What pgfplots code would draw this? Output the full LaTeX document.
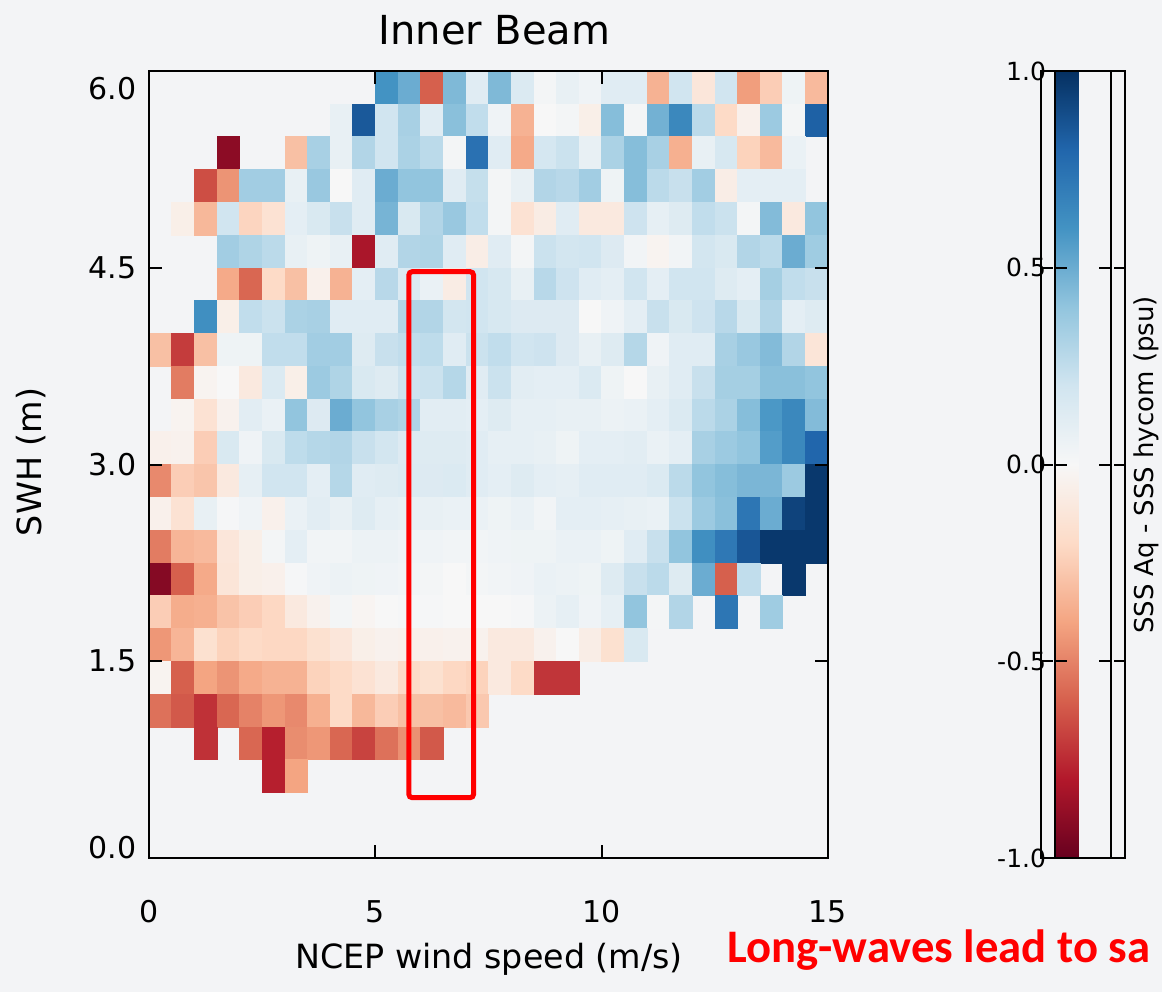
\documentclass[border=0pt]{standalone}
\usepackage{pgfplots}
\pgfplotsset{compat=1.18}
\usepackage{fontspec}
\setmainfont{DejaVu Sans}
\newfontfamily\carlito{Carlito}
\definecolor{bg}{RGB}{243,244,246}
\pgfdeclareplotmark{cell}{\pgfpathrectangle{\pgfpoint{-6.79pt}{-9.8375pt}}{\pgfpoint{13.58pt}{19.675pt}}\pgfusepathqfillstroke}
\pgfplotsset{myframe/.style={
  tick align=inside,
  tick style={line width=1.2pt, black},
  axis line style={line width=1.2pt, black}}}
\begin{document}
\begin{tikzpicture}
\fill[bg] (-89.4pt,-80.4pt) rectangle (607.8pt,514.8pt);
\path[use as bounding box] (-89.4pt,-80.4pt) rectangle (607.8pt,514.8pt);
\begin{axis}[
  myframe,
  at={(0,0)}, anchor=south west,
  scale only axis, width=407.4pt, height=472.2pt,
  xmin=0, xmax=15, ymin=0, ymax=6,
  xtick={0,5,10,15}, ytick={0,1.5,3,4.5,6},
  yticklabels={\raisebox{6pt}[\height][\depth]{0.0},1.5,3.0,4.5,\raisebox{-10.8pt}[\height][\depth]{6.0}},
  xticklabel pos=lower, yticklabel pos=lower,
  xtick pos=both, ytick pos=both,
  major tick length=7.8pt,
  axis on top,
  xticklabel style={font=\fontsize{18}{21}\selectfont, inner sep=0pt, yshift=-25.2pt, /pgf/number format/assume math mode=true},
  yticklabel style={font=\fontsize{18}{21}\selectfont, xshift=-4pt},
  colormap={rdbu}{rgb255=(103,0,31) rgb255=(178,24,43) rgb255=(214,96,77) rgb255=(244,165,130) rgb255=(253,219,199) rgb255=(247,247,247) rgb255=(209,229,240) rgb255=(146,197,222) rgb255=(67,147,195) rgb255=(33,102,172) rgb255=(5,48,97)},
  point meta min=-1, point meta max=1,
  colorbar,
  colorbar style={
    at={(parent axis.north east)}, anchor=north west, xshift=127.8pt,
    scale only axis, width=42pt, height=472.2pt,
    ytick={-1,-0.5,0,0.5,1},
    yticklabel pos=left, ytick pos=both,
    axis on top,
    major tick length=7pt,
    tick style={line width=1.2pt, black},
    axis line style={line width=1.2pt, black},
    yticklabel style={font=\fontsize{15}{18}\selectfont, xshift=-2pt, /pgf/number format/.cd, fixed, fixed zerofill, precision=1, assume math mode=true},
  },
]
\addplot[scatter, only marks, mark=cell, point meta=explicit,
  mark options={line width=0.3pt},
  scatter/use mapped color={draw=mapped color, fill=mapped color}] coordinates {
(5.25,5.875) [0.6] (5.75,5.875) [0.5] (6.25,5.875) [-0.6] (6.75,5.875) [0.45] (7.25,5.875) [0.12] (7.75,5.875) [0.45] (8.25,5.875) [0.15] (8.75,5.875) [0.02] (9.25,5.875) [0.08] (9.75,5.875) [0.04] (10.25,5.875) [0.12] (10.75,5.875) [0.12] (11.25,5.875) [-0.35] (11.75,5.875) [0.2] (12.25,5.875) [-0.12] (12.75,5.875) [0.2] (13.25,5.875) [-0.42] (13.75,5.875) [-0.25] (14.25,5.875) [0.05] (14.75,5.875) [-0.32]
(4.25,5.625) [0.08] (4.75,5.625) [0.85] (5.25,5.625) [0.2] (5.75,5.625) [0.33] (6.25,5.625) [0.12] (6.75,5.625) [0.42] (7.25,5.625) [0.25] (7.75,5.625) [0.04] (8.25,5.625) [-0.35] (8.75,5.625) [0.0] (9.25,5.625) [0.02] (9.75,5.625) [-0.06] (10.25,5.625) [0.43] (10.75,5.625) [0.02] (11.25,5.625) [0.48] (11.75,5.625) [0.65] (12.25,5.625) [0.27] (12.75,5.625) [-0.2] (13.25,5.625) [-0.05] (13.75,5.625) [0.37] (14.25,5.625) [0.02] (14.75,5.625) [0.82]
(1.75,5.375) [-0.9] (3.25,5.375) [-0.3] (3.75,5.375) [0.33] (4.25,5.375) [0.08] (4.75,5.375) [0.3] (5.25,5.375) [0.2] (5.75,5.375) [0.32] (6.25,5.375) [0.27] (6.75,5.375) [0.02] (7.25,5.375) [0.75] (7.75,5.375) [0.12] (8.25,5.375) [-0.38] (8.75,5.375) [0.18] (9.25,5.375) [0.22] (9.75,5.375) [0.08] (10.25,5.375) [0.32] (10.75,5.375) [0.43] (11.25,5.375) [0.33] (11.75,5.375) [-0.36] (12.25,5.375) [0.08] (12.75,5.375) [0.17] (13.25,5.375) [-0.23] (13.75,5.375) [-0.32] (14.25,5.375) [0.07]
(1.25,5.125) [-0.65] (1.75,5.125) [-0.45] (2.25,5.125) [0.35] (2.75,5.125) [0.35] (3.25,5.125) [0.08] (3.75,5.125) [0.38] (4.25,5.125) [0.0] (4.75,5.125) [0.12] (5.25,5.125) [0.5] (5.75,5.125) [0.4] (6.25,5.125) [0.4] (6.75,5.125) [0.12] (7.25,5.125) [0.24] (7.75,5.125) [0.02] (8.25,5.125) [0.08] (8.75,5.125) [0.3] (9.25,5.125) [0.28] (9.75,5.125) [0.35] (10.25,5.125) [0.05] (10.75,5.125) [0.43] (11.25,5.125) [0.27] (11.75,5.125) [0.23] (12.25,5.125) [0.35] (12.75,5.125) [-0.07] (13.25,5.125) [0.1] (13.75,5.125) [0.1] (14.25,5.125) [0.1]
(0.75,4.875) [-0.06] (1.25,4.875) [-0.33] (1.75,4.875) [0.2] (2.25,4.875) [-0.22] (2.75,4.875) [-0.15] (3.25,4.875) [0.1] (3.75,4.875) [0.16] (4.25,4.875) [0.23] (4.75,4.875) [0.12] (5.25,4.875) [0.47] (5.75,4.875) [0.16] (6.25,4.875) [0.3] (6.75,4.875) [0.38] (7.25,4.875) [0.25] (7.75,4.875) [0.02] (8.25,4.875) [-0.15] (8.75,4.875) [-0.08] (9.25,4.875) [0.12] (9.75,4.875) [-0.1] (10.25,4.875) [-0.1] (10.75,4.875) [0.21] (11.25,4.875) [0.09] (11.75,4.875) [0.13] (12.25,4.875) [0.25] (12.75,4.875) [0.22] (13.25,4.875) [0.02] (13.75,4.875) [0.44] (14.25,4.875) [-0.1] (14.75,4.875) [0.4]
(1.75,4.625) [0.35] (2.25,4.625) [0.31] (2.75,4.625) [0.27] (3.25,4.625) [0.08] (3.75,4.625) [0.05] (4.25,4.625) [0.08] (4.75,4.625) [-0.82] (5.25,4.625) [0.12] (5.75,4.625) [0.3] (6.25,4.625) [0.31] (6.75,4.625) [0.12] (7.25,4.625) [-0.07] (7.75,4.625) [0.12] (8.25,4.625) [0.02] (8.75,4.625) [0.22] (9.25,4.625) [0.19] (9.75,4.625) [0.2] (10.25,4.625) [0.14] (10.75,4.625) [0.03] (11.25,4.625) [-0.03] (11.75,4.625) [0.03] (12.25,4.625) [0.19] (12.75,4.625) [0.16] (13.25,4.625) [0.3] (13.75,4.625) [0.27] (14.25,4.625) [0.5] (14.75,4.625) [0.36]
(1.75,4.375) [-0.38] (2.25,4.375) [-0.58] (2.75,4.375) [-0.2] (3.25,4.375) [-0.3] (3.75,4.375) [-0.05] (4.25,4.375) [-0.35] (4.75,4.375) [0.1] (5.25,4.375) [0.28] (5.75,4.375) [0.15] (6.25,4.375) [0.07] (6.75,4.375) [-0.08] (7.25,4.375) [0.2] (7.75,4.375) [0.17] (8.25,4.375) [0.08] (8.75,4.375) [0.28] (9.25,4.375) [0.21] (9.75,4.375) [0.12] (10.25,4.375) [0.1] (10.75,4.375) [0.2] (11.25,4.375) [0.1] (11.75,4.375) [0.2] (12.25,4.375) [0.2] (12.75,4.375) [0.13] (13.25,4.375) [0.1] (13.75,4.375) [0.34] (14.25,4.375) [0.25] (14.75,4.375) [0.23]
(1.25,4.125) [0.62] (1.75,4.125) [-0.06] (2.25,4.125) [0.25] (2.75,4.125) [0.22] (3.25,4.125) [0.32] (3.75,4.125) [0.33] (4.25,4.125) [0.12] (4.75,4.125) [0.12] (5.25,4.125) [0.12] (5.75,4.125) [0.3] (6.25,4.125) [0.3] (6.75,4.125) [0.19] (7.25,4.125) [0.2] (7.75,4.125) [0.17] (8.25,4.125) [0.14] (8.75,4.125) [0.14] (9.25,4.125) [0.14] (9.75,4.125) [0.0] (10.25,4.125) [0.04] (10.75,4.125) [0.1] (11.25,4.125) [0.23] (11.75,4.125) [0.16] (12.25,4.125) [0.21] (12.75,4.125) [0.28] (13.25,4.125) [0.16] (13.75,4.125) [0.3] (14.25,4.125) [0.1] (14.75,4.125) [0.13]
(0.25,3.875) [-0.3] (0.75,3.875) [-0.7] (1.25,3.875) [-0.3] (1.75,3.875) [0.05] (2.25,3.875) [0.05] (2.75,3.875) [0.25] (3.25,3.875) [0.25] (3.75,3.875) [0.35] (4.25,3.875) [0.35] (4.75,3.875) [0.13] (5.25,3.875) [0.23] (5.75,3.875) [0.25] (6.25,3.875) [0.26] (6.75,3.875) [0.12] (7.25,3.875) [0.22] (7.75,3.875) [0.25] (8.25,3.875) [0.2] (8.75,3.875) [0.21] (9.25,3.875) [0.14] (9.75,3.875) [0.08] (10.25,3.875) [0.13] (10.75,3.875) [0.29] (11.25,3.875) [0.04] (11.75,3.875) [0.12] (12.25,3.875) [0.12] (12.75,3.875) [0.33] (13.25,3.875) [0.38] (13.75,3.875) [0.44] (14.25,3.875) [0.3] (14.75,3.875) [-0.13]
(0.75,3.625) [-0.52] (1.25,3.625) [-0.03] (1.75,3.625) [0.0] (2.25,3.625) [-0.1] (2.75,3.625) [0.15] (3.25,3.625) [-0.06] (3.75,3.625) [0.37] (4.25,3.625) [0.31] (4.75,3.625) [0.16] (5.25,3.625) [0.13] (5.75,3.625) [0.21] (6.25,3.625) [0.22] (6.75,3.625) [0.29] (7.25,3.625) [0.12] (7.75,3.625) [0.22] (8.25,3.625) [0.11] (8.75,3.625) [0.1] (9.25,3.625) [0.1] (9.75,3.625) [0.15] (10.25,3.625) [0.05] (10.75,3.625) [0.0] (11.25,3.625) [0.08] (11.75,3.625) [0.12] (12.25,3.625) [0.23] (12.75,3.625) [0.34] (13.25,3.625) [0.34] (13.75,3.625) [0.42] (14.25,3.625) [0.42] (14.75,3.625) [0.4]
(0.75,3.375) [-0.03] (1.25,3.375) [-0.15] (1.75,3.375) [-0.04] (2.25,3.375) [0.11] (2.75,3.375) [0.07] (3.25,3.375) [0.4] (3.75,3.375) [0.14] (4.25,3.375) [0.5] (4.75,3.375) [0.4] (5.25,3.375) [0.33] (5.75,3.375) [0.31] (6.25,3.375) [0.11] (6.75,3.375) [0.11] (7.25,3.375) [0.1] (7.75,3.375) [0.13] (8.25,3.375) [0.09] (8.75,3.375) [0.09] (9.25,3.375) [0.08] (9.75,3.375) [0.08] (10.25,3.375) [0.06] (10.75,3.375) [0.07] (11.25,3.375) [0.1] (11.75,3.375) [0.15] (12.25,3.375) [0.27] (12.75,3.375) [0.32] (13.25,3.375) [0.43] (13.75,3.375) [0.58] (14.25,3.375) [0.65] (14.75,3.375) [0.44]
(0.25,3.125) [-0.05] (0.75,3.125) [-0.04] (1.25,3.125) [-0.25] (1.75,3.125) [0.16] (2.25,3.125) [0.04] (2.75,3.125) [0.16] (3.25,3.125) [0.26] (3.75,3.125) [0.29] (4.25,3.125) [0.3] (4.75,3.125) [0.23] (5.25,3.125) [0.19] (5.75,3.125) [0.14] (6.25,3.125) [0.13] (6.75,3.125) [0.13] (7.25,3.125) [0.12] (7.75,3.125) [0.09] (8.25,3.125) [0.09] (8.75,3.125) [0.08] (9.25,3.125) [0.05] (9.75,3.125) [0.1] (10.25,3.125) [0.1] (10.75,3.125) [0.11] (11.25,3.125) [0.07] (11.75,3.125) [0.1] (12.25,3.125) [0.33] (12.75,3.125) [0.37] (13.25,3.125) [0.4] (13.75,3.125) [0.56] (14.25,3.125) [0.65] (14.75,3.125) [0.8]
(0.25,2.875) [-0.48] (0.75,2.875) [-0.25] (1.25,2.875) [-0.28] (1.75,2.875) [-0.1] (2.25,2.875) [0.09] (2.75,2.875) [0.2] (3.25,2.875) [0.2] (3.75,2.875) [0.1] (4.25,2.875) [0.29] (4.75,2.875) [0.12] (5.25,2.875) [0.13] (5.75,2.875) [0.15] (6.25,2.875) [0.14] (6.75,2.875) [0.15] (7.25,2.875) [0.12] (7.75,2.875) [0.1] (8.25,2.875) [0.13] (8.75,2.875) [0.1] (9.25,2.875) [0.09] (9.75,2.875) [0.12] (10.25,2.875) [0.12] (10.75,2.875) [0.12] (11.25,2.875) [0.15] (11.75,2.875) [0.27] (12.25,2.875) [0.4] (12.75,2.875) [0.43] (13.25,2.875) [0.46] (13.75,2.875) [0.46] (14.25,2.875) [0.37] (14.75,2.875) [0.97]
(0.25,2.625) [-0.05] (0.75,2.625) [-0.15] (1.25,2.625) [0.08] (1.75,2.625) [0.01] (2.25,2.625) [0.04] (2.75,2.625) [-0.05] (3.25,2.625) [0.07] (3.75,2.625) [0.11] (4.25,2.625) [0.08] (4.75,2.625) [0.13] (5.25,2.625) [0.09] (5.75,2.625) [0.08] (6.25,2.625) [0.08] (6.75,2.625) [0.07] (7.25,2.625) [0.07] (7.75,2.625) [0.05] (8.25,2.625) [0.07] (8.75,2.625) [0.03] (9.25,2.625) [0.1] (9.75,2.625) [0.1] (10.25,2.625) [0.09] (10.75,2.625) [0.08] (11.25,2.625) [0.07] (11.75,2.625) [0.22] (12.25,2.625) [0.37] (12.75,2.625) [0.42] (13.25,2.625) [0.73] (13.75,2.625) [0.5] (14.25,2.625) [0.93] (14.75,2.625) [0.97]
(0.25,2.375) [-0.52] (0.75,2.375) [-0.34] (1.25,2.375) [-0.32] (1.75,2.375) [-0.12] (2.25,2.375) [-0.06] (2.75,2.375) [0.02] (3.25,2.375) [0.1] (3.75,2.375) [0.03] (4.25,2.375) [0.03] (4.75,2.375) [0.06] (5.25,2.375) [0.06] (5.75,2.375) [0.04] (6.25,2.375) [0.04] (6.75,2.375) [0.03] (7.25,2.375) [0.03] (7.75,2.375) [0.04] (8.25,2.375) [0.05] (8.75,2.375) [0.05] (9.25,2.375) [0.07] (9.75,2.375) [0.07] (10.25,2.375) [0.05] (10.75,2.375) [0.12] (11.25,2.375) [0.23] (11.75,2.375) [0.4] (12.25,2.375) [0.62] (12.75,2.375) [0.72] (13.25,2.375) [0.86] (13.75,2.375) [0.97] (14.25,2.375) [0.97] (14.75,2.375) [0.97]
(0.25,2.125) [-0.92] (0.75,2.125) [-0.6] (1.25,2.125) [-0.38] (1.75,2.125) [-0.13] (2.25,2.125) [-0.06] (2.75,2.125) [-0.05] (3.25,2.125) [0.01] (3.75,2.125) [0.04] (4.25,2.125) [0.06] (4.75,2.125) [0.05] (5.25,2.125) [0.04] (5.75,2.125) [0.03] (6.25,2.125) [0.02] (6.75,2.125) [0.0] (7.25,2.125) [0.02] (7.75,2.125) [0.03] (8.25,2.125) [0.04] (8.75,2.125) [0.07] (9.25,2.125) [0.06] (9.75,2.125) [0.05] (10.25,2.125) [0.13] (10.75,2.125) [0.23] (11.25,2.125) [0.27] (11.75,2.125) [0.13] (12.25,2.125) [0.5] (12.75,2.125) [-0.6] (13.25,2.125) [0.25] (14.25,2.125) [0.97]
(0.25,1.875) [-0.25] (0.75,1.875) [-0.37] (1.25,1.875) [-0.36] (1.75,1.875) [-0.29] (2.25,1.875) [-0.25] (2.75,1.875) [-0.21] (3.25,1.875) [-0.1] (3.75,1.875) [-0.04] (4.25,1.875) [0.02] (4.75,1.875) [-0.02] (5.25,1.875) [0.0] (5.75,1.875) [0.01] (6.25,1.875) [0.01] (6.75,1.875) [0.0] (7.25,1.875) [0.0] (7.75,1.875) [0.0] (8.25,1.875) [0.01] (8.75,1.875) [0.06] (9.25,1.875) [0.09] (9.75,1.875) [0.04] (10.25,1.875) [0.09] (10.75,1.875) [0.4] (11.25,1.875) [0.02] (11.75,1.875) [0.3] (12.75,1.875) [0.73] (13.75,1.875) [0.36]
(0.25,1.625) [-0.44] (0.75,1.625) [-0.34] (1.25,1.625) [-0.16] (1.75,1.625) [-0.23] (2.25,1.625) [-0.2] (2.75,1.625) [-0.21] (3.25,1.625) [-0.21] (3.75,1.625) [-0.16] (4.25,1.625) [-0.12] (4.75,1.625) [-0.06] (5.25,1.625) [-0.04] (5.75,1.625) [-0.05] (6.25,1.625) [-0.05] (6.75,1.625) [-0.04] (7.25,1.625) [-0.04] (7.75,1.625) [-0.1] (8.25,1.625) [-0.1] (8.75,1.625) [-0.04] (9.25,1.625) [0.0] (9.75,1.625) [-0.07] (10.25,1.625) [-0.16] (10.75,1.625) [0.16]
(0.25,1.375) [-0.03] (0.75,1.375) [-0.6] (1.25,1.375) [-0.4] (1.75,1.375) [-0.45] (2.25,1.375) [-0.38] (2.75,1.375) [-0.35] (3.25,1.375) [-0.35] (3.75,1.375) [-0.23] (4.25,1.375) [-0.2] (4.75,1.375) [-0.15] (5.25,1.375) [-0.1] (5.75,1.375) [-0.2] (6.25,1.375) [-0.16] (6.75,1.375) [-0.21] (7.25,1.375) [-0.23] (7.75,1.375) [-0.1] (8.25,1.375) [-0.2] (8.75,1.375) [-0.72] (9.25,1.375) [-0.72]
(0.25,1.125) [-0.55] (0.75,1.125) [-0.62] (1.25,1.125) [-0.73] (1.75,1.125) [-0.58] (2.25,1.125) [-0.5] (2.75,1.125) [-0.44] (3.25,1.125) [-0.48] (3.75,1.125) [-0.36] (4.25,1.125) [-0.2] (4.75,1.125) [-0.33] (5.25,1.125) [-0.25] (5.75,1.125) [-0.3] (6.25,1.125) [-0.3] (6.75,1.125) [-0.32] (7.25,1.125) [-0.27]
(1.25,0.875) [-0.73] (2.25,0.875) [-0.58] (2.75,0.875) [-0.78] (3.25,0.875) [-0.47] (3.75,0.875) [-0.44] (4.25,0.875) [-0.58] (4.75,0.875) [-0.68] (5.25,0.875) [-0.55] (5.75,0.875) [-0.46] (6.25,0.875) [-0.62]
(2.75,0.625) [-0.78] (3.25,0.625) [-0.4]
};
\coordinate (boxbl) at (axis cs:5.74,0.46);
\coordinate (boxtr) at (axis cs:7.17,4.47);
\end{axis}
% main frame redrawn on top of the cells: ticks inward on all sides
\begin{axis}[
  myframe,
  at={(0pt,0pt)}, anchor=south west,
  scale only axis, width=407.4pt, height=472.2pt,
  xmin=0, xmax=15, ymin=0, ymax=6,
  xtick={0,5,10,15}, ytick={0,1.5,3,4.5,6},
  xticklabels={}, yticklabels={},
  xtick pos=both, ytick pos=both,
  major tick length=7.8pt,
]
\addplot[draw=none, forget plot] coordinates {(0,0) (15,6)};
\end{axis}
% colour bar frame with its inward ticks on both sides
\begin{axis}[
  myframe,
  at={(535.2pt,0pt)}, anchor=south west,
  scale only axis, width=42pt, height=472.2pt,
  xmin=0, xmax=1, ymin=-1, ymax=1,
  xtick=\empty, ytick={-0.5,0,0.5}, yticklabels={},
  ytick pos=both,
  major tick length=7pt,
]
\addplot[draw=none, forget plot] coordinates {(0,-1) (1,1)};
\end{axis}
\draw[red, line width=3pt, rounded corners=2pt] (boxbl) rectangle (boxtr);
\node[font=\fontsize{24}{28}\selectfont, anchor=base] at (207.3pt,487.8pt) {Inner Beam};
\node[font=\fontsize{20}{24}\selectfont, anchor=base] at (204pt,-66pt) {NCEP wind speed (m/s)};
\node[font=\fontsize{20}{24}\selectfont, rotate=90, anchor=base] at (-64.2pt,237.6pt) {SWH (m)};
\node[font=\fontsize{15.6}{18}\selectfont, rotate=90, anchor=base, inner sep=0pt] at (602.5pt,235.8pt) {SSS Aq - SSS hycom (psu)};
\node[font=\carlito\bfseries\fontsize{28}{32}\selectfont, text=red, anchor=base west, inner sep=0pt] at (346.8pt,-62.4pt) {Long-waves lead to sa};
\end{tikzpicture}
\end{document}
